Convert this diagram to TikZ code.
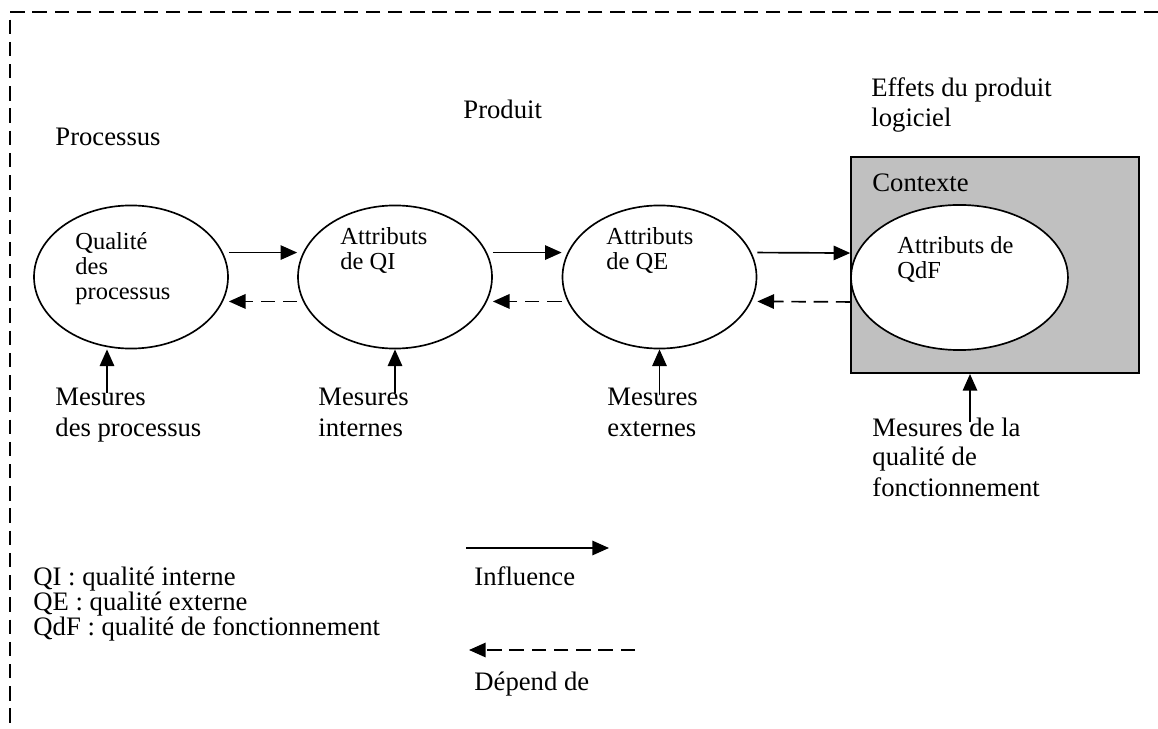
\documentclass[tikz,border=0pt]{standalone}
\usepackage{fontspec}
\setmainfont{Liberation Serif}
\usepackage{tikz}
\usetikzlibrary{arrows.meta,shapes.geometric}
\definecolor{ctxgray}{RGB}{192,192,192}

\begin{document}
\begin{tikzpicture}[x=0.45pt,y=-0.45pt,
    infl/.style={line width=0.75pt,-{Triangle[length=7.5pt,width=6.5pt]}},
    dep/.style={infl,dash pattern=on 6.5pt off 3.5pt}]
\useasboundingbox (0,0) rectangle (1158,729);
\draw[line width=0.75pt,dash pattern=on 6.5pt off 3.5pt] (1158,12) -- (10,12) -- (10,729);

\node[draw,line width=0.9pt,fill=ctxgray,inner sep=0pt,
      minimum width=129.6pt,minimum height=97.2pt] (ctx) at (995,265) {};

\begin{scope}[every node/.style={ellipse,draw,line width=0.75pt,fill=white,inner sep=0pt,
                                 minimum width=87.3pt,minimum height=64.4pt}]
    \node (QP)  at (131,277)   {};
    \node (QI)  at (395,277)   {};
    \node (QE)  at (659.5,277) {};
    \node[minimum width=97.6pt,minimum height=65.3pt] (QdF) at (959.5,277.5) {};
\end{scope}

% base = last line
\begin{scope}[every node/.style={anchor=base west,inner sep=0pt,align=left,
                                 font=\fontsize{11}{11.25}\selectfont}]
    \node (tQP)  at (75,300)  {Qualité\\des\\processus};
    \node (tQI)  at (340,270) {Attributs\\de QI};
    \node (tQE)  at (606,270) {Attributs\\de QE};
    \node (tQdF) at (897,279) {Attributs de\\QdF};
\end{scope}

\begin{scope}[every node/.style={anchor=base west,inner sep=0pt,align=left,
                                 font=\fontsize{12}{13.5}\selectfont}]
    \node (proc) at (55,146)  {Processus};
    \node (prod) at (463,119) {Produit};
    \node (eff)  at (871,127) {Effets du produit\\logiciel};
    \node (cont) at (872,192) {Contexte};
    \node (mP)   at (55,436)  {Mesures\\des processus};
    \node (mI)   at (318,436) {Mesures\\internes};
    \node (mE)   at (607,436) {Mesures\\externes};
    \node (mF)   at (872,496) {Mesures de la\\qualité de\\fonctionnement};
    \node[font=\fontsize{12}{11.25}\selectfont] (leg) at (33,635)
        {QI : qualité interne\\QE : qualité externe\\QdF : qualité de fonctionnement};
    \node (lInf) at (474,585) {Influence};
    \node (lDep) at (474,690) {Dépend de};
\end{scope}

\draw[infl] ([yshift=11pt]QP.east) -- ([yshift=11pt]QI.west);
\draw[infl] ([yshift=11pt]QI.east) -- ([yshift=11pt]QE.west);
\draw[infl] ([yshift=11pt]QE.east) -- ([yshift=11pt]QdF.west);
\draw[dep] ([yshift=-11pt]QI.west)  -- ([yshift=-11pt]QP.east);
\draw[dep] ([yshift=-11pt]QE.west)  -- ([yshift=-11pt]QI.east);
\draw[dep] ([yshift=-11pt]QdF.west) -- ([yshift=-11pt]QE.east);

\coordinate (aP) at (107,393);
\coordinate (aI) at (395,393);
\coordinate (aE) at (659.5,395);
\coordinate (aF) at (970,422);
\draw[infl] (aP) -- (aP |- QP.south);
\draw[infl] (aI) -- (QI.south);
\draw[infl] (aE) -- (QE.south);
\draw[infl] (aF) -- (aF |- ctx.south);

\coordinate (infA) at (466,548);
\coordinate (infB) at (609,548);
\draw[infl] (infA) -- (infB);
\coordinate (depA) at (635,650);
\coordinate (depB) at (469,650);
\draw[dep] (depA) -- (depB);
\end{tikzpicture}
\end{document}
